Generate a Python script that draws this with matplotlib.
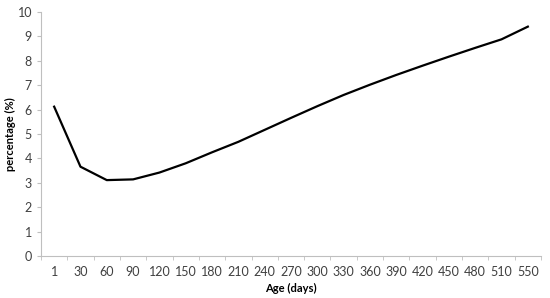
import numpy as np
import matplotlib
matplotlib.use("Agg")
from matplotlib import pyplot as plt
from matplotlib.ticker import FixedLocator

ages = ['1', '30', '60', '90', '120', '150', '180', '210', '240', '270',
        '300', '330', '360', '390', '420', '450', '480', '510', '550']
percentage = [6.12, 3.66, 3.11, 3.14, 3.42, 3.80, 4.25, 4.68, 5.17, 5.66,
              6.14, 6.60, 7.02, 7.42, 7.80, 8.17, 8.53, 8.88, 9.40]

plt.rcParams['font.family'] = ['Lato', 'DejaVu Sans']

fig = plt.figure(figsize=(5.5, 2.98), dpi=100)
ax = fig.add_axes([41/550, 1-256/298, 500/550, 244/298])

x = np.arange(len(ages))
ax.plot(x, percentage, color='black', lw=1.6)

ax.set_xlim(-0.5, len(ages) - 0.5)
ax.set_ylim(0, 10)
ax.set_yticks(range(0, 11))
ax.set_xticks(x)
ax.set_xticklabels(ages)
ax.xaxis.set_minor_locator(FixedLocator(np.arange(-0.5, len(ages), 1)))
ax.tick_params(axis='x', which='major', length=0, pad=7, labelsize=9, colors='#404040')
ax.tick_params(axis='x', which='minor', length=3, color='#bfbfbf')
ax.tick_params(axis='y', length=3, color='#bfbfbf', labelsize=9, labelcolor='#404040')

for s in ['top', 'right']:
    ax.spines[s].set_visible(False)
for s in ['left', 'bottom']:
    ax.spines[s].set_color('#bfbfbf')
    ax.spines[s].set_linewidth(0.8)

ax.set_xlabel('Age (days)', fontsize=8, fontweight='bold', labelpad=4)
ax.set_ylabel('percentage (%)', fontsize=8, fontweight='bold')
ax.yaxis.set_label_coords(-0.05, 0.5)

fig.savefig('out.png', dpi=100)
